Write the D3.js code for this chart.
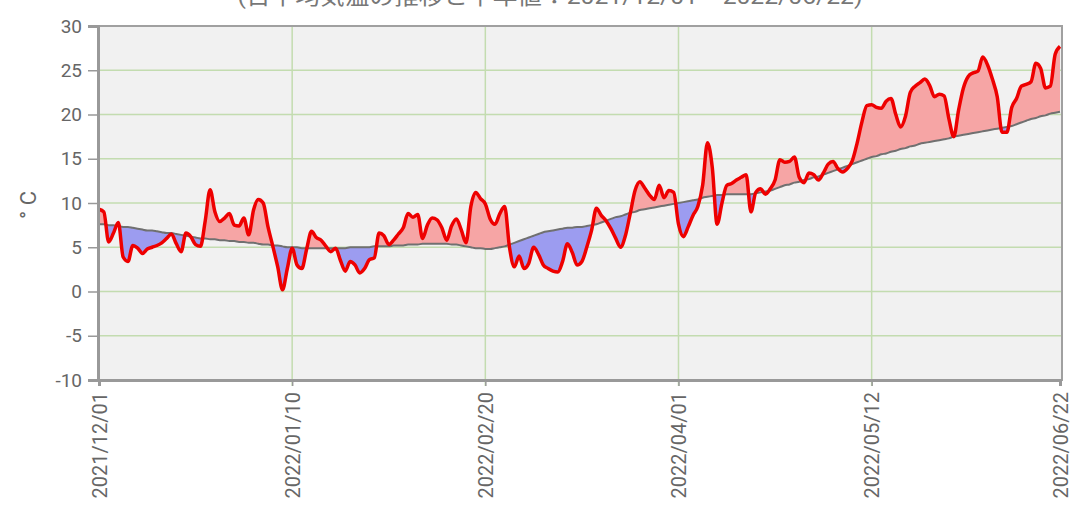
<!DOCTYPE html>
<html>
<head>
<meta charset="utf-8" />
<title>temperature</title>
<script src="https://cdn.jsdelivr.net/npm/d3@7"></script>
<style>
  body { margin: 0; background: #fff; }
  text { font-family: Roboto, "Noto Sans CJK JP", sans-serif; }
</style>
</head>
<body>
<svg id="chart" width="1074" height="507"></svg>
<script>

// daily mean temperature (red) and normal (gray), one value per day
var actual = [
  9.3, 9.0, 5.6, 6.6, 7.8, 3.9, 3.4, 5.2, 4.9, 4.3,
  4.8, 5.0, 5.2, 5.5, 6.0, 6.5, 5.4, 4.5, 6.6, 6.2,
  5.3, 5.1, 8.0, 11.5, 9.0, 7.9, 8.3, 8.8, 7.5, 7.4,
  8.3, 6.4, 9.2, 10.4, 10.0, 7.3, 5.1, 2.8, 0.2, 2.6,
  4.9, 3.0, 2.6, 4.8, 6.8, 6.1, 5.8, 5.1, 4.5, 4.9,
  3.5, 2.3, 3.4, 3.0, 2.1, 2.6, 3.6, 3.8, 6.6, 6.3,
  5.3, 5.8, 6.5, 7.2, 8.8, 8.4, 8.7, 6.0, 7.5, 8.3,
  8.1, 7.2, 5.8, 7.4, 8.2, 7.0, 5.5, 9.6, 11.2, 10.5,
  9.9, 8.2, 7.6, 8.8, 9.6, 5.0, 2.8, 4.0, 2.6, 3.2,
  5.0, 4.2, 3.0, 2.6, 2.3, 2.2, 3.4, 5.4, 4.4, 3.0,
  3.4, 5.0, 6.9, 9.4, 8.6, 8.0, 7.1, 6.0, 5.0, 6.3,
  8.8, 11.4, 12.4, 11.7, 10.9, 10.4, 12.0, 10.6, 11.4, 11.2,
  7.6, 6.2, 7.3, 8.6, 9.6, 12.0, 16.8, 14.0, 7.6, 10.0,
  12.0, 12.2, 12.6, 12.9, 13.2, 9.0, 11.2, 11.6, 11.0, 11.6,
  12.6, 14.9, 14.6, 14.7, 15.2, 12.9, 12.3, 13.4, 13.2, 12.6,
  13.4, 14.4, 14.7, 13.9, 13.5, 13.9, 14.8, 16.8, 19.2, 21.0,
  21.1, 20.8, 20.7, 21.5, 21.8, 20.0, 18.6, 19.8, 22.5, 23.2,
  23.6, 24.0, 23.3, 22.0, 22.3, 22.1, 19.5, 17.5, 20.5, 23.0,
  24.3, 24.7, 24.9, 26.5, 25.6, 24.0, 22.0, 18.0, 18.0, 20.8,
  21.8, 23.2, 23.4, 23.7, 25.8, 25.2, 23.0, 23.2, 26.8, 27.7
];

var normal = [
  7.6, 7.6, 7.5, 7.5, 7.4, 7.3, 7.3, 7.2, 7.1, 7.0,
  6.9, 6.9, 6.8, 6.7, 6.6, 6.6, 6.5, 6.4, 6.3, 6.2,
  6.1, 6.0, 6.0, 5.9, 5.9, 5.8, 5.8, 5.7, 5.7, 5.6,
  5.6, 5.5, 5.5, 5.4, 5.3, 5.3, 5.2, 5.2, 5.1, 5.0,
  5.0, 5.0, 4.9, 4.9, 4.9, 4.9, 4.9, 4.9, 4.9, 4.9,
  4.9, 4.9, 5.0, 5.0, 5.0, 5.0, 5.0, 5.1, 5.1, 5.1,
  5.1, 5.2, 5.2, 5.2, 5.3, 5.3, 5.3, 5.4, 5.4, 5.4,
  5.4, 5.4, 5.4, 5.3, 5.3, 5.2, 5.1, 5.0, 4.9, 4.9,
  4.8, 4.8, 4.9, 5.0, 5.1, 5.3, 5.5, 5.7, 5.9, 6.1,
  6.3, 6.5, 6.7, 6.8, 6.9, 7.0, 7.1, 7.2, 7.2, 7.3,
  7.3, 7.4, 7.5, 7.6, 7.8, 8.0, 8.2, 8.4, 8.5, 8.7,
  8.9, 9.0, 9.2, 9.3, 9.4, 9.5, 9.6, 9.7, 9.8, 9.9,
  10.0, 10.1, 10.2, 10.3, 10.4, 10.6, 10.7, 10.8, 10.9, 10.9,
  11.0, 11.0, 11.0, 11.0, 11.0, 11.0, 11.1, 11.2, 11.3, 11.4,
  11.6, 11.8, 12.0, 12.1, 12.3, 12.4, 12.6, 12.7, 12.9, 13.0,
  13.2, 13.4, 13.6, 13.8, 14.0, 14.2, 14.4, 14.6, 14.8, 15.0,
  15.2, 15.3, 15.5, 15.6, 15.8, 15.9, 16.1, 16.2, 16.4, 16.5,
  16.7, 16.8, 16.9, 17.0, 17.1, 17.2, 17.3, 17.5, 17.6, 17.7,
  17.8, 17.9, 18.0, 18.1, 18.2, 18.3, 18.4, 18.5, 18.6, 18.7,
  18.9, 19.1, 19.3, 19.5, 19.6, 19.8, 19.9, 20.1, 20.2, 20.3
];

var xTickIndex = [0, 40, 80, 120, 160, 199];
var xTickLabels = ["2021/12/01", "2022/01/10", "2022/02/20", "2022/04/01", "2022/05/12", "2022/06/22"];
var yTicks = [-10, -5, 0, 5, 10, 15, 20, 25, 30];

var svg = d3.select("#chart");
var plotL = 98, plotR = 1062, plotT = 26, plotB = 380;

var x = d3.scaleLinear().domain([0, actual.length - 1]).range([plotL + 1, plotR - 2]);
var y = d3.scaleLinear().domain([-10, 30]).range([plotB, plotT]);

var rows = actual.map(function(v, i) { return { i: i, a: v, n: normal[i] }; });

// title, mostly cut off by the top edge
svg.append("text")
  .attr("x", 550).attr("y", 4)
  .attr("text-anchor", "middle")
  .attr("font-size", 22)
  .attr("fill", "#777")
  .attr("textLength", 625)
  .attr("lengthAdjust", "spacingAndGlyphs")
  .text("(日平均気温の推移と平年値：2021/12/01～2022/06/22)");

svg.append("rect")
  .attr("x", plotL).attr("y", plotT)
  .attr("width", plotR - plotL).attr("height", plotB - plotT)
  .attr("fill", "#f1f1f1");

// grid
svg.append("g").selectAll("line").data(yTicks.slice(1, -1)).enter().append("line")
  .attr("x1", plotL).attr("x2", plotR)
  .attr("y1", function(d) { return y(d); }).attr("y2", function(d) { return y(d); })
  .attr("stroke", "#c3dcb0").attr("stroke-width", 1.5);

svg.append("g").selectAll("line").data(xTickIndex.slice(1, -1)).enter().append("line")
  .attr("x1", function(d) { return x(d); }).attr("x2", function(d) { return x(d); })
  .attr("y1", plotT).attr("y2", plotB + 6)
  .attr("stroke", "#c3dcb0").attr("stroke-width", 1.5);

// fills between actual and normal
var curve = d3.curveMonotoneX;
var band = d3.area().curve(curve)
  .x(function(d) { return x(d.i); })
  .y0(function(d) { return y(d.n); })
  .y1(function(d) { return y(d.a); });

var defs = svg.append("defs");
defs.append("clipPath").attr("id", "above").append("path")
  .attr("d", d3.area().curve(curve)
    .x(function(d) { return x(d.i); })
    .y0(plotT - 10)
    .y1(function(d) { return y(d.n); })(rows));
defs.append("clipPath").attr("id", "below").append("path")
  .attr("d", d3.area().curve(curve)
    .x(function(d) { return x(d.i); })
    .y0(plotB + 10)
    .y1(function(d) { return y(d.n); })(rows));

svg.append("path").attr("d", band(rows))
  .attr("clip-path", "url(#above)")
  .attr("fill", "#f6a5a5");
svg.append("path").attr("d", band(rows))
  .attr("clip-path", "url(#below)")
  .attr("fill", "#9c9cf0");

// normal line
svg.append("path").datum(rows)
  .attr("d", d3.line().curve(curve)
    .x(function(d) { return x(d.i); })
    .y(function(d) { return y(d.n); }))
  .attr("fill", "none")
  .attr("stroke", "#707070")
  .attr("stroke-width", 2);

// actual line
svg.append("path").datum(rows)
  .attr("d", d3.line().curve(curve)
    .x(function(d) { return x(d.i); })
    .y(function(d) { return y(d.a); }))
  .attr("fill", "none")
  .attr("stroke", "#ee0000")
  .attr("stroke-width", 3.5)
  .attr("stroke-linejoin", "round");

// frame
svg.append("rect")
  .attr("x", plotL).attr("y", plotT)
  .attr("width", plotR - plotL).attr("height", plotB - plotT)
  .attr("fill", "none").attr("stroke", "#a0a0a0").attr("stroke-width", 2);

// y axis
var yAxis = svg.append("g")
  .attr("transform", "translate(" + plotL + ",0)")
  .call(d3.axisLeft(y).tickValues(yTicks).tickSize(10).tickPadding(6)
    .tickFormat(function(d) { return String(d); }));
yAxis.select(".domain").attr("stroke", "#999").attr("stroke-width", 3);
yAxis.selectAll(".tick line").attr("stroke", "#999").attr("stroke-width", 1.5);
yAxis.selectAll("text").attr("font-size", 19).attr("fill", "#666");

// x axis
var xAxis = svg.append("g")
  .attr("transform", "translate(0," + plotB + ")")
  .call(d3.axisBottom(x).tickValues(xTickIndex).tickSize(6)
    .tickFormat(function(d, i) { return xTickLabels[i]; }));
xAxis.select(".domain").attr("stroke", "#999").attr("stroke-width", 3);
xAxis.selectAll(".tick line").attr("stroke", "#999").attr("stroke-width", 1.5);
xAxis.selectAll("text")
  .attr("font-size", 20).attr("fill", "#666")
  .attr("transform", "rotate(-90)")
  .attr("text-anchor", "end")
  .attr("x", -12).attr("y", 0).attr("dy", "0.35em");

// y title
svg.append("text")
  .attr("transform", "translate(36,205) rotate(-90)")
  .attr("text-anchor", "middle")
  .attr("font-size", 22)
  .attr("fill", "#666")
  .text("° C");

</script>
</body>
</html>
